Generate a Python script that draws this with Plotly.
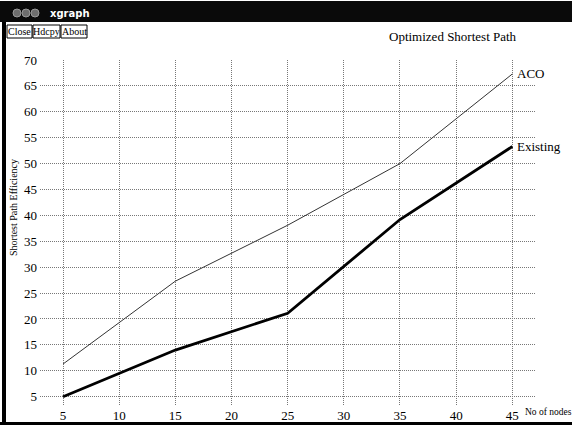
import plotly.graph_objects as go

# ---- data ----
nodes = [5, 15, 25, 35, 45]
aco = [11.3, 27.3, 38.1, 50.0, 67.3]
existing = [5.0, 14.0, 21.1, 39.2, 53.3]
x_ticks = [5, 10, 15, 20, 25, 30, 35, 40, 45]
y_ticks = [5, 10, 15, 20, 25, 30, 35, 40, 45, 50, 55, 60, 65, 70]

W, H = 572, 425
SERIF = "Liberation Serif, Times New Roman, serif"


def px(x):
    return x / W


def py(y):
    return 1 - y / H


fig = go.Figure()
fig.add_trace(go.Scatter(x=nodes, y=aco, mode="lines", name="ACO",
                         line=dict(color="#333333", width=1), showlegend=False))
fig.add_trace(go.Scatter(x=nodes, y=existing, mode="lines", name="Existing",
                         line=dict(color="#000000", width=2.8), showlegend=False))

grid = dict(showgrid=True, gridcolor="#777777", griddash="1px,1px", gridwidth=1,
            zeroline=False, showline=False, ticks="", automargin=False,
            tickfont=dict(family=SERIF, size=13, color="#000"))

fig.update_xaxes(range=[2.95, 47.02], domain=[px(40), px(535)],
                 tickvals=x_ticks, ticklabelstandoff=0, **grid)
fig.update_yaxes(range=[3.2, 70], domain=[(H - 406) / H, (H - 60) / H],
                 tickvals=y_ticks, ticklabelstandoff=2, **grid)

shapes = []
# title bar
shapes.append(dict(type="rect", xref="paper", yref="paper", x0=0, x1=1,
                   y0=py(22), y1=py(1), fillcolor="#0a0a0a", line=dict(width=0), layer="above"))
for cx in (17, 26, 35):
    shapes.append(dict(type="circle", xref="paper", yref="paper",
                       x0=px(cx - 4), x1=px(cx + 4), y0=py(17), y1=py(9),
                       fillcolor="#6e6e6e", line=dict(color="#9a9a9a", width=1), layer="above"))
# buttons
for x0, x1 in ((7, 32), (33, 60), (61, 87)):
    shapes.append(dict(type="rect", xref="paper", yref="paper",
                       x0=px(x0), x1=px(x1), y0=py(38), y1=py(25),
                       fillcolor="rgba(0,0,0,0)", line=dict(color="#000", width=1), layer="above"))
# left and bottom borders
shapes.append(dict(type="rect", xref="paper", yref="paper", x0=px(2), x1=px(6),
                   y0=0, y1=py(22), fillcolor="#000", line=dict(width=0), layer="above"))
shapes.append(dict(type="rect", xref="paper", yref="paper", x0=0, x1=1,
                   y0=0, y1=py(422), fillcolor="#000", line=dict(width=0), layer="below"))


def note(text, x, y, size, xanchor="center", family=SERIF, color="#000", **kw):
    return dict(text=text, x=px(x), y=py(y), xref="paper", yref="paper",
                xanchor=xanchor, yanchor="middle", showarrow=False,
                font=dict(family=family, size=size, color=color), **kw)


annotations = [
    note("<b>xgraph</b>", 48, 13, 10, xanchor="left", family="DejaVu Sans", color="#fff"),
    note("Close", 19.5, 31.5, 10),
    note("Hdcpy", 46.5, 31.5, 10),
    note("About", 74, 31.5, 10),
    note("Optimized Shortest Path", 453, 37, 13),
    note("Shortest Path Efficiency", 13, 208, 10, textangle=-90),
    note("No of nodes", 523, 412, 9.5, xanchor="left"),
    dict(text="ACO", x=nodes[-1], y=aco[-1], xref="x", yref="y", xanchor="left",
         yanchor="middle", xshift=3, showarrow=False,
         font=dict(family=SERIF, size=13, color="#000")),
    dict(text="Existing", x=nodes[-1], y=existing[-1], xref="x", yref="y", xanchor="left",
         yanchor="middle", xshift=3, showarrow=False,
         font=dict(family=SERIF, size=13, color="#000")),
]

fig.update_layout(width=W, height=H, margin=dict(l=0, r=0, t=0, b=0, pad=0),
                  paper_bgcolor="#fff", plot_bgcolor="#fff",
                  shapes=shapes, annotations=annotations, showlegend=False)

fig.write_html("out.html", config={"displayModeBar": False},
               post_script="document.body.style.margin='0';document.body.style.overflow='hidden';")
